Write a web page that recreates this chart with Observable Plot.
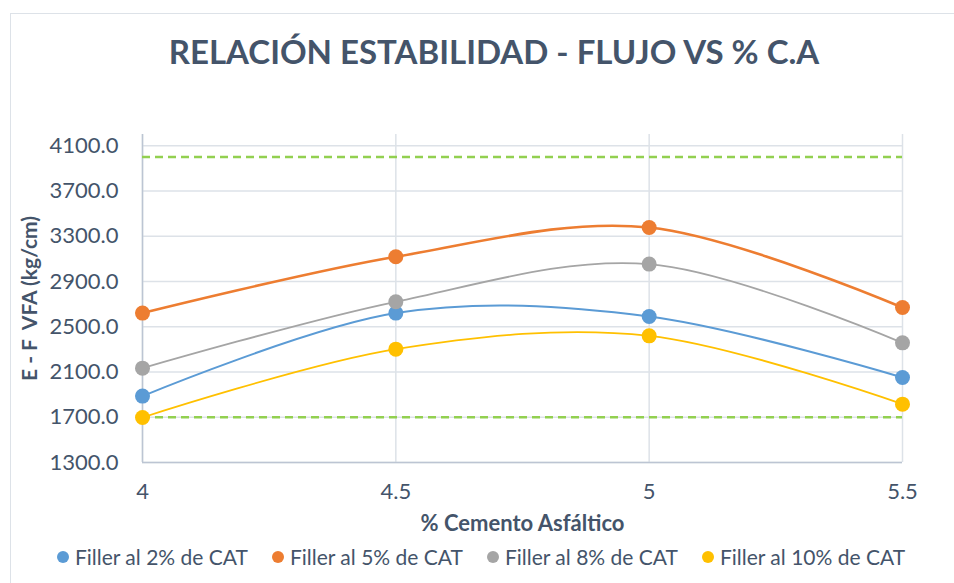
<!DOCTYPE html>
<html>
<head>
<meta charset="utf-8">
<script src="https://cdn.jsdelivr.net/npm/d3@7"></script>
<script src="https://cdn.jsdelivr.net/npm/@observablehq/plot@0.6"></script>
<style>
  html, body { margin: 0; padding: 0; background: #fff; }
  #wrap { position: relative; width: 954px; height: 583px; overflow: hidden; background: #fff; font-family: Lato, "Open Sans", sans-serif; color: #44546A; }
  #frame { position: absolute; left: 10px; top: 13px; width: 1000px; height: 700px; border: 1.5px solid #dde2e8; box-sizing: border-box; }
  #title { position: absolute; left: 0; width: 988px; top: 31px; text-align: center; font-weight: 700; font-size: 33px; letter-spacing: 0px; white-space: nowrap; }
  #chart { position: absolute; left: 0; top: 0; }
  #legend { position: absolute; left: 0; width: 962px; top: 544px; display: flex; justify-content: center; gap: 24px; font-size: 21px; white-space: nowrap; }
  .item { display: flex; align-items: center; gap: 6px; }
  .sw { width: 12px; height: 12px; border-radius: 50%; display: inline-block; }
</style>
</head>
<body>
<div id="wrap">
  <div id="frame"></div>
  <div id="chart"></div>
  <div id="title"></div>
  <div id="legend"></div>
</div>
<script>
// ---- data ----
const titleText = "RELACIÓN ESTABILIDAD - FLUJO VS % C.A";
const xLabel = "% Cemento Asfáltico";
const yLabel = "E - F  VFA (kg/cm)";
const cementPct = [4, 4.5, 5, 5.5];
const seriesNames = ["Filler al 2% de CAT", "Filler al 5% de CAT", "Filler al 8% de CAT", "Filler al 10% de CAT"];
const filler2 = [1887, 2621, 2591, 2052];
const filler5 = [2621, 3119, 3378, 2670];
const filler8 = [2134, 2721, 3054, 2358];
const filler10 = [1698, 2302, 2420, 1816];
const limits = [4000, 1700];
const yTicks = [1300, 1700, 2100, 2500, 2900, 3300, 3700, 4100];
const xTicks = [4, 4.5, 5, 5.5];
const seriesColors = ["#5B9BD5", "#ED7D31", "#A5A5A5", "#FFC000"];
const seriesWidths = [2, 2.6, 1.8, 1.8];

const allSeries = [filler2, filler5, filler8, filler10];
const rows = [];
allSeries.forEach((vals, si) => vals.forEach((v, i) => rows.push({series: seriesNames[si], x: cementPct[i], y: v})));

const textColor = "#44546A";
const gridColor = "#dde2e8";
const axisColor = "#bcc5d3";

const chart = Plot.plot({
  width: 954,
  height: 583,
  marginLeft: 142,
  marginRight: 52,
  marginTop: 134,
  marginBottom: 121,
  style: {fontFamily: "Lato, 'Open Sans', sans-serif", color: textColor, background: "transparent"},
  x: {domain: [4, 5.5]},
  y: {domain: [1300, 4200]},
  color: {domain: seriesNames, range: seriesColors},
  marks: [
    Plot.gridY(yTicks, {stroke: gridColor, strokeOpacity: 1, strokeWidth: 1.5}),
    Plot.gridX(xTicks, {stroke: gridColor, strokeOpacity: 1, strokeWidth: 1.5}),
    Plot.ruleX([cementPct[0]], {stroke: axisColor, strokeWidth: 1.5}),
    Plot.ruleY([yTicks[0]], {stroke: axisColor, strokeWidth: 1.5}),
    Plot.ruleY(limits, {stroke: "#92D050", strokeWidth: 2.5, strokeDasharray: "8,5"}),
    Plot.axisY(yTicks, {tickSize: 0, tickPadding: 24, tickFormat: d3.format(".1f"), fontSize: 22, fill: textColor, label: null}),
    Plot.axisX(xTicks, {tickSize: 0, tickPadding: 21, tickFormat: d => String(d), fontSize: 22, fill: textColor, label: null}),
    ...seriesNames.map((name, si) => Plot.line(rows.filter(r => r.series === name), {x: "x", y: "y", stroke: "series", strokeWidth: seriesWidths[si], curve: "cardinal"})),
    Plot.dot(rows, {x: "x", y: "y", fill: "series", r: 7.5}),
    Plot.text([yLabel], {frameAnchor: "left", textAnchor: "middle", rotate: -90, dx: -112, fontSize: 21, fontWeight: "bold", fill: textColor}),
    Plot.text([xLabel], {frameAnchor: "bottom", textAnchor: "middle", dy: 68, fontSize: 22, fontWeight: "bold", fill: textColor})
  ]
});
document.getElementById("chart").appendChild(chart);

document.getElementById("title").textContent = titleText;
const legend = document.getElementById("legend");
seriesNames.forEach((name, i) => {
  const item = document.createElement("div");
  item.className = "item";
  const sw = document.createElement("span");
  sw.className = "sw";
  sw.style.background = seriesColors[i];
  const label = document.createElement("span");
  label.textContent = name;
  item.appendChild(sw);
  item.appendChild(label);
  legend.appendChild(item);
});
</script>
</body>
</html>
